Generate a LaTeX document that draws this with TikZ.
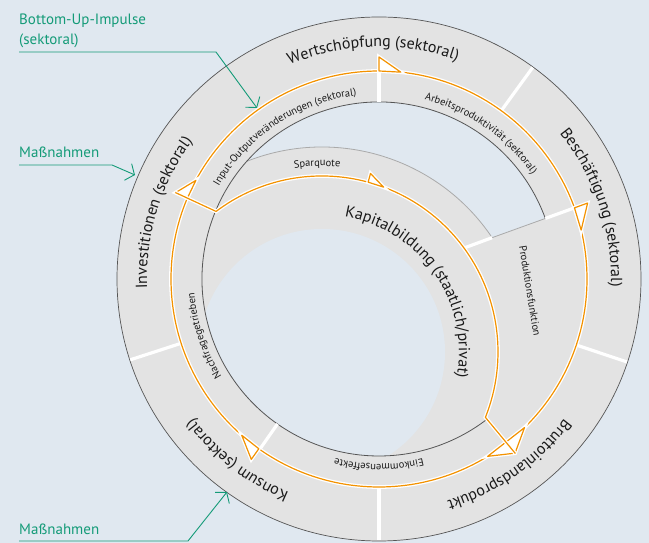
\documentclass[tikz,border=0pt]{standalone}
\usepackage{fontspec}
\setmainfont{PT Sans}
\usetikzlibrary{calc,decorations.text,arrows.meta}

\definecolor{hgblau}{RGB}{224,232,240}
\definecolor{ringgrau}{RGB}{227,227,227}
\definecolor{kontur}{RGB}{85,85,85}
\definecolor{hellkontur}{RGB}{170,170,170}
\definecolor{kreisorange}{RGB}{243,146,0}
\definecolor{hinweisgruen}{RGB}{20,155,120}
\definecolor{schrift}{RGB}{26,26,26}

\newcommand{\ringgross}{\fontsize{16}{19}\selectfont}
\newcommand{\ringklein}{\fontsize{10.5}{12}\selectfont}

\tikzset{
  trenner/.style={draw=white, line width=3.2},
  kreislauf/.style={draw=kreisorange, line width=1.2, line join=round, preaction={draw=white, line width=3.8}},
  fahne/.style={kreislauf, fill=white},
  ringtext/.style={decorate, decoration={text along path, text align=center, text color=schrift}},
  hinweis/.style={draw=hinweisgruen, line width=0.9, -{Straight Barb[length=7pt,width=18pt]}},
  hinweistext/.style={text=hinweisgruen, inner sep=0, font=\fontsize{15}{20}\selectfont},
}

\begin{document}
\begin{tikzpicture}[x=1pt,y=1pt]
  % Hintergrund
  \fill[hgblau] (0,0) rectangle (649,543);
  \useasboundingbox (0,0) rectangle (649,543);
  \coordinate (C) at (379,264);
  \coordinate (K) at (322,191);
  % Ringflaeche
  \filldraw[fill=ringgrau, draw=kontur, line width=0.7] (C) circle[radius=262];
  % Luecke ueber der Kapitalbildung
  \coordinate (luecke-r) at ($(C)+(20:177)$);
  \coordinate (luecke-l) at ($(K)+(111.5:205)$);
  \coordinate (luecke-k) at ($(K)+(33.9:205)$);
  \fill[hgblau] (luecke-r) arc[start angle=20, end angle=138.3, radius=177]
    arc[start angle=111.5, end angle=33.9, radius=205] -- cycle;
  \draw[hellkontur, line width=0.8] (luecke-l) arc[start angle=111.5, end angle=33.9, radius=205] -- (luecke-r);
  % Loch in der Mitte
  \begin{scope}
    \clip (C) circle[radius=177];
    \fill[hgblau] (K) circle[radius=123];
  \end{scope}
  \draw[kontur, line width=0.8] (luecke-r) arc[start angle=20, end angle=308, radius=177];
  % Trennlinien
  \foreach \w in {54,-18.5,-90,198}
    \draw[trenner] ($(C)+(\w:208)$) -- ($(C)+(\w:261.5)$);
  \foreach \w in {90,20,235}
    \draw[trenner] ($(C)+(\w:177)$) -- ($(C)+(\w:208)$);
  \draw[trenner] ($(C)+(20:89.4)$) -- (luecke-k);
  % Kreislauf aussen
  \draw[kreislauf] (C) circle[radius=208];
  \path[fahne] ($(C)+(90:208)$) -- ($(C)+(90:222)$) -- ($(C)+(84:208)$) -- cycle;
  \path[fahne] ($(C)+(20:208)$) -- ($(C)+(20:222)$) -- ($(C)+(13.6:208)$) -- cycle;
  \path[fahne] ($(C)+(234.7:208)$) -- ($(C)+(234.7:221)$) -- ($(C)+(228.7:208)$) -- cycle;
  \path[fahne] ($(C)+(157:208)$) -- ($(C)+(157:221)$) -- ($(C)+(151.7:208)$) -- cycle;
  \path[fahne] ($(C)+(-45.6:208)$) -- ($(C)+(-52:221)$) -- ($(C)+(-58.5:208)$) -- cycle;
  % Kreislauf Kapitalbildung
  \coordinate (K1) at ($(K)+(127:176)$);
  \coordinate (K2) at ($(K)+(-21.8:176)$);
  \draw[kreislauf] ($(C)+(157:221)$) -- (K1) arc[start angle=127, end angle=-21.8, radius=176]
    -- ($(C)+(-52:221)$);
  \path[fahne] ($(K)+(74.8:176)$) -- ($(K)+(74.8:185)$) -- ($(K)+(69.5:176)$) -- cycle;
  % Beschriftung aeusserer Ring
  \path[ringtext, decoration={text={|\ringgross|Wertschöpfung (sektoral)}}]
    ($(C)+(151.5:232)$) arc[start angle=151.5, end angle=31.5, radius=232];
  \path[ringtext, decoration={text={|\ringgross|Beschäftigung (sektoral)}}]
    ($(C)+(78.5:232)$) arc[start angle=78.5, end angle=-41.5, radius=232];
  \path[ringtext, decoration={text={|\ringgross|Bruttoinlandsprodukt}}]
    ($(C)+(5:232)$) arc[start angle=5, end angle=-115, radius=232];
  \path[ringtext, decoration={text={|\ringgross|Konsum (sektoral)}}]
    ($(C)+(292:232)$) arc[start angle=292, end angle=172, radius=232];
  \path[ringtext, decoration={text={|\ringgross|Investitionen (sektoral)}}]
    ($(C)+(223:232)$) arc[start angle=223, end angle=103, radius=232];
  % Beschriftung mittlerer Ring
  \path[ringtext, decoration={text={|\ringklein|Input-Outputveränderungen (sektoral)}}]
    ($(C)+(183.5:185)$) arc[start angle=183.5, end angle=63.5, radius=185];
  \path[ringtext, decoration={text={|\ringklein|Arbeitsproduktivität (sektoral)}}]
    ($(C)+(115:185)$) arc[start angle=115, end angle=-5, radius=185];
  \path[ringtext, decoration={text={|\ringklein|Nachfragegetrieben}}]
    ($(C)+(258:185)$) arc[start angle=258, end angle=138, radius=185];
  \path[ringtext, decoration={text={|\ringklein|Einkommenseffekte}}]
    ($(C)+(-30:185)$) arc[start angle=-30, end angle=-150, radius=185];
  % Beschriftung Kapitalbildung
  \path[ringtext, decoration={text={|\ringklein|Sparquote}}]
    ($(K)+(131.5:186)$) arc[start angle=131.5, end angle=51.5, radius=186];
  \path[ringtext, decoration={text={|\ringgross|Kapitalbildung (staatlich/privat)}}]
    ($(K)+(110:137)$) arc[start angle=110, end angle=-40, radius=137];
  \node[rotate=-80.7, font=\ringklein, text=schrift] (produktion) at (530,252) {Produktionsfunktion};
  % Hinweise
  \node[hinweistext, anchor=north west, align=left] (impulse) at (19,529) {Bottom-Up-Impulse\\(sektoral)};
  \node[hinweistext, anchor=base west] (massnahmen-o) at (19,385) {Maßnahmen};
  \node[hinweistext, anchor=base west] (massnahmen-u) at (19,8) {Maßnahmen};
  \coordinate (impulse-knick) at (216,491);
  \coordinate (impulse-ziel) at (257,435);
  \coordinate (massnahmen-o-knick) at (112,378);
  \coordinate (massnahmen-o-ziel) at (135,368);
  \coordinate (massnahmen-u-knick) at (188,2);
  \coordinate (massnahmen-u-ziel) at (227,51);
  \draw[hinweis] (impulse.west |- impulse-knick) -- (impulse-knick) -- (impulse-ziel);
  \draw[hinweis] (massnahmen-o.west |- massnahmen-o-knick) -- (massnahmen-o-knick) -- (massnahmen-o-ziel);
  \draw[hinweis] (massnahmen-u.west |- massnahmen-u-knick) -- (massnahmen-u-knick) -- (massnahmen-u-ziel);
\end{tikzpicture}
\end{document}
